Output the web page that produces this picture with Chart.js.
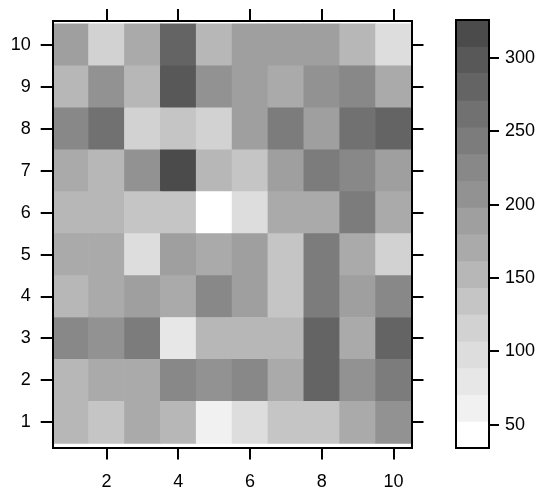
<!DOCTYPE html>
<html>
<head>
<meta charset="utf-8">
<script src="https://cdn.jsdelivr.net/npm/chart.js@4.4.0/dist/chart.umd.min.js"></script>
<style>
  html, body { margin: 0; padding: 0; background: #fff; }
  #wrap { position: relative; width: 550px; height: 499px; }
  #wrap canvas { position: absolute; left: 0; top: 0; }
</style>
</head>
<body>
<div id="wrap">
  <canvas id="heat" width="550" height="499"></canvas>
  <canvas id="key" width="550" height="499"></canvas>
</div>
<script>
// grid positions
const columns = [1, 2, 3, 4, 5, 6, 7, 8, 9, 10];
const rows = [1, 2, 3, 4, 5, 6, 7, 8, 9, 10];

// cell values, one array per row (row 1 at the bottom)
const row1  = [153, 134, 171, 153,  61,  98, 134, 134, 171, 207];
const row2  = [153, 171, 171, 226, 207, 226, 171, 280, 207, 244];
const row3  = [226, 207, 244,  80, 153, 153, 153, 280, 171, 280];
const row4  = [153, 171, 189, 171, 226, 189, 134, 244, 189, 226];
const row5  = [171, 171,  98, 189, 171, 189, 134, 244, 171, 116];
const row6  = [153, 153, 134, 134,  34,  98, 171, 171, 244, 171];
const row7  = [171, 153, 207, 326, 153, 134, 189, 244, 226, 189];
const row8  = [226, 262, 116, 134, 116, 189, 244, 189, 262, 280];
const row9  = [153, 207, 153, 298, 207, 189, 171, 207, 226, 171];
const row10 = [189, 116, 171, 280, 153, 189, 189, 189, 153,  98];
const rowValues = [row1, row2, row3, row4, row5, row6, row7, row8, row9, row10];

// tick labels
const xTicks = [2, 4, 6, 8, 10];
const yTicks = [1, 2, 3, 4, 5, 6, 7, 8, 9, 10];
const keyTicks = [50, 100, 150, 200, 250, 300];

// 16 grey levels, light to dark
const bandGreys = [255, 241, 231, 221, 210, 197, 183, 170, 159, 146, 136, 124, 113, 100, 88, 75];

const allValues = rowValues.flat();
const zMin = Math.min(...allValues);
const zMax = Math.max(...allValues);
const nBands = bandGreys.length;
const bandWidth = (zMax - zMin) / nBands;

function grey(g) {
  return 'rgb(' + g + ',' + g + ',' + g + ')';
}

function colorFor(v) {
  const k = Math.min(nBands - 1, Math.max(0, Math.floor((v - zMin) / bandWidth)));
  return grey(bandGreys[k]);
}

const labelFont = { family: '"Liberation Sans", Arial, sans-serif', size: 18 };

function setTicks(list) {
  return (axis) => { axis.ticks = list.map(v => ({ value: v })); };
}

function tickAxis(extra) {
  return Object.assign({
    type: 'linear',
    offset: false,
    grid: { offset: false, drawOnChartArea: false, drawTicks: true, tickLength: 12, color: '#000', lineWidth: 2 },
    border: { display: true, color: '#000', width: 2, z: 1 },
    ticks: { color: '#000', font: labelFont }
  }, extra);
}

// ---- heat map ----
const heatDatasets = rowValues.map((vals, r) => ({
  data: vals.map((v, c) => ({ x: columns[c], y: [rows[r] - 0.5, rows[r] + 0.5] })),
  backgroundColor: vals.map(colorFor),
  borderWidth: 0,
  barPercentage: 1,
  categoryPercentage: 1,
  grouped: false
}));

new Chart(document.getElementById('heat'), {
  type: 'bar',
  data: { datasets: heatDatasets },
  options: {
    responsive: false,
    animation: false,
    devicePixelRatio: 1,
    events: [],
    layout: { padding: { left: 0, right: 126.5, top: 9, bottom: 0 } },
    plugins: { legend: { display: false }, tooltip: { enabled: false } },
    scales: {
      x: tickAxis({
        position: 'bottom', min: 0.5, max: 10.5,
        ticks: { color: '#000', font: labelFont, padding: 12, maxRotation: 0 },
        afterBuildTicks: setTicks(xTicks),
        afterFit: (axis) => { axis.height = 51.5; }
      }),
      x2: tickAxis({
        position: 'top', min: 0.5, max: 10.5,
        ticks: { display: false },
        afterBuildTicks: setTicks(xTicks),
        afterFit: (axis) => { axis.height = 12; }
      }),
      y: tickAxis({
        position: 'left', min: 0.4, max: 10.57,
        ticks: { color: '#000', font: labelFont, padding: 10 },
        afterBuildTicks: setTicks(yTicks),
        afterFit: (axis) => { axis.width = 52.7; }
      }),
      y2: tickAxis({
        position: 'right', min: 0.4, max: 10.57,
        ticks: { display: false },
        afterBuildTicks: setTicks(yTicks),
        afterFit: (axis) => { axis.width = 12; }
      })
    }
  }
});

// ---- colour key ----
const bandEdges = bandGreys.map((g, k) => zMin + k * bandWidth);
const keyData = bandGreys.map((g, k) => ({ x: 'key', y: [bandEdges[k], bandEdges[k] + bandWidth] }));

const frameBorder = { display: true, color: '#000', width: 2, z: 1 };

new Chart(document.getElementById('key'), {
  type: 'bar',
  data: {
    labels: ['key'],
    datasets: [{
      data: keyData,
      backgroundColor: bandGreys.map(grey),
      borderWidth: 0,
      barPercentage: 1,
      categoryPercentage: 1
    }]
  },
  options: {
    responsive: false,
    animation: false,
    devicePixelRatio: 1,
    events: [],
    layout: { padding: { left: 455.5, right: 0, top: 20, bottom: 50.7 } },
    plugins: { legend: { display: false }, tooltip: { enabled: false } },
    scales: {
      x: {
        type: 'category', position: 'bottom',
        grid: { display: false },
        ticks: { display: false },
        border: frameBorder,
        afterFit: (axis) => { axis.height = 0; }
      },
      xt: {
        type: 'category', position: 'top', labels: ['key'],
        grid: { display: false },
        ticks: { display: false },
        border: frameBorder,
        afterFit: (axis) => { axis.height = 0; }
      },
      yl: {
        type: 'linear', position: 'left', min: zMin, max: zMax,
        grid: { display: false },
        ticks: { display: false },
        border: frameBorder,
        afterFit: (axis) => { axis.width = 0; }
      },
      y: {
        type: 'linear', position: 'right', min: zMin, max: zMax,
        grid: { drawOnChartArea: false, drawTicks: true, tickLength: 10, color: '#000', lineWidth: 2 },
        border: frameBorder,
        ticks: { color: '#000', font: labelFont, padding: 6 },
        afterBuildTicks: setTicks(keyTicks),
        afterFit: (axis) => { axis.width = 61; }
      }
    }
  }
});
</script>
</body>
</html>
